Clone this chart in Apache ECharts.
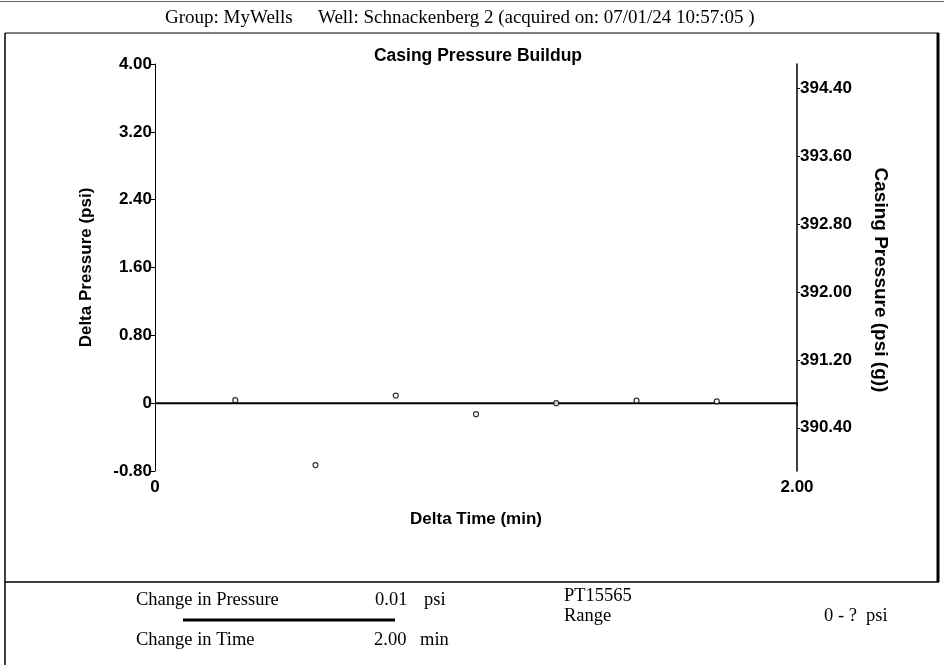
<!DOCTYPE html>
<html>
<head>
<meta charset="utf-8">
<script src="https://cdn.jsdelivr.net/npm/echarts@6/dist/echarts.min.js"></script>
<style>
  html, body { margin: 0; padding: 0; background: #fff; }
  #chart { width: 944px; height: 665px; }
</style>
</head>
<body>
<div id="chart"></div>
<script>
// delta time (min) of each sample
const timeMin = [0, 0.25, 0.5, 0.75, 1.0, 1.25, 1.5, 1.75, 2.0];
// delta pressure trace (psi)
const deltaPressure = [0, 0, 0, 0, 0, 0, 0, 0, 0];
// individual readings (psi) at 0.25 .. 1.75 min
const readingTimes = [0.25, 0.5, 0.75, 1.0, 1.25, 1.5, 1.75];
const readingValues = [0.035, -0.73, 0.09, -0.13, 0.0, 0.03, 0.02];
// right axis tick labels (psi (g))
const casingTicks = [390.4, 391.2, 392.0, 392.8, 393.6, 394.4];
const xTicks = [0, 2];

const SERIF = '"Liberation Serif", "DejaVu Serif", serif';
const SANS = '"Liberation Sans", Arial, sans-serif';

const chart = echarts.init(document.getElementById('chart'), null, { renderer: 'canvas' });

const txt = (x, y, text, size) => ({
  type: 'text', left: x, top: y,
  style: { text, font: (size || 18.5) + 'px ' + SERIF, fill: '#000' },
});
const line = (x1, y1, x2, y2, w, c) => ({
  type: 'line', shape: { x1, y1, x2, y2 },
  style: { stroke: c || '#000', lineWidth: w || 1 },
});
const bold = size => ({ fontFamily: SANS, fontSize: size, fontWeight: 'bold', color: '#000' });

const option = {
  animation: false,
  backgroundColor: '#fff',
  title: {
    text: 'Casing Pressure Buildup',
    left: 473, top: 42, textAlign: 'center',
    textStyle: bold(17.5),
  },
  grid: { left: 155, right: 147, top: 64, bottom: 194 },
  xAxis: {
    type: 'value', min: 0, max: 2,
    name: 'Delta Time (min)', nameLocation: 'middle', nameGap: 40,
    nameTextStyle: bold(17),
    axisLine: { lineStyle: { color: '#444', width: 1 } },
    axisTick: { show: true, customValues: xTicks, length: 3, lineStyle: { color: '#000' } },
    axisLabel: {
      customValues: xTicks, margin: 8,
      formatter: v => (v === 0 ? '0' : v.toFixed(2)),
      ...bold(17),
    },
    splitLine: { show: false },
  },
  yAxis: [
    {
      type: 'value', min: -0.8, max: 4, interval: 0.8,
      name: 'Delta Pressure (psi)', nameLocation: 'middle', nameGap: 60,
      nameTextStyle: bold(17),
      axisLine: { show: true, lineStyle: { color: '#000', width: 1 } },
      axisTick: { show: true, length: 4, lineStyle: { color: '#000' } },
      axisLabel: {
        margin: 3,
        formatter: v => (Math.abs(v) < 1e-9 ? '0' : v.toFixed(2)),
        ...bold(17),
      },
      splitLine: { show: false },
    },
    {
      type: 'value', position: 'right', min: 389.89, max: 394.69,
      axisLine: { show: true, lineStyle: { color: '#000', width: 1.5 } },
      axisTick: { show: true, customValues: casingTicks, length: 3, lineStyle: { color: '#000' } },
      axisLabel: {
        customValues: casingTicks, margin: 3,
        formatter: v => v.toFixed(2),
        ...bold(17),
      },
      splitLine: { show: false },
    },
  ],
  series: [
    {
      type: 'line',
      data: timeMin.map((t, i) => [t, deltaPressure[i]]),
      showSymbol: false,
      lineStyle: { color: '#000', width: 2 },
      z: 2,
    },
    {
      type: 'scatter',
      data: readingTimes.map((t, i) => [t, readingValues[i]]),
      symbol: 'circle', symbolSize: 5,
      itemStyle: { color: '#fff', borderColor: '#000', borderWidth: 1.2 },
      z: 3,
    },
  ],
  graphic: [
    // frame
    line(0, 1.5, 944, 1.5, 1, '#666'),
    line(5, 33, 939, 33, 1),
    line(5, 33, 5, 665, 1.5),
    line(5, 582, 939, 582, 1.5),
    line(938, 33, 938, 582, 3),
    // right axis title, reads top to bottom
    {
      type: 'text', x: 880, y: 280, rotation: -Math.PI / 2,
      style: {
        text: 'Casing Pressure (psi (g))', font: 'bold 19px ' + SANS, fill: '#000',
        align: 'center', verticalAlign: 'middle',
      },
    },
    // header
    txt(165, 9, 'Group: MyWells', 19),
    txt(318, 9, 'Well: Schnackenberg 2 (acquired on: 07/01/24 10:57:05 )', 19),
    // footer
    txt(136, 591, 'Change in Pressure'),
    txt(375, 591, '0.01'),
    txt(424, 591, 'psi'),
    line(183, 620, 395, 620, 3),
    txt(136, 631, 'Change in Time'),
    txt(374, 631, '2.00'),
    txt(420, 631, 'min'),
    txt(564, 587, 'PT15565'),
    txt(564, 607, 'Range'),
    txt(824, 607, '0 - ?'),
    txt(866, 607, 'psi'),
  ],
};

chart.setOption(option);
</script>
</body>
</html>
